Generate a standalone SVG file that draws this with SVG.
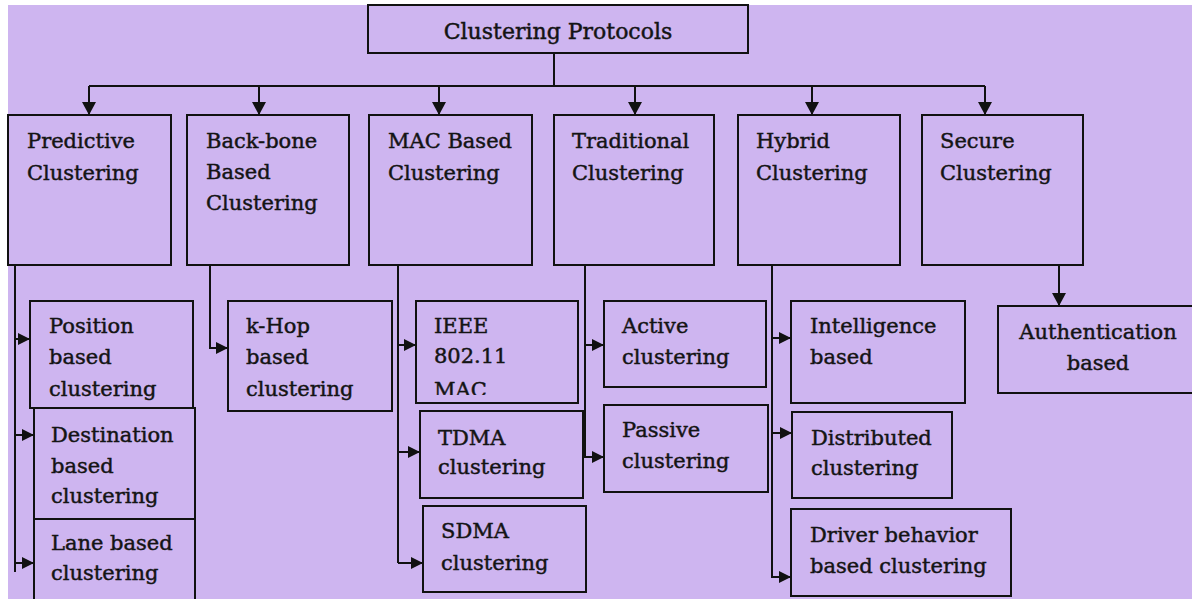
<svg xmlns="http://www.w3.org/2000/svg" width="1192" height="599" viewBox="0 0 1192 599">
  <defs>
    <style>
      .bg { fill: #ffffff; }
      .panel { fill: #ceb5f0; }
      .box { fill: #ceb5f0; stroke: #111111; stroke-width: 2; }
      .lbl { font-family: "DejaVu Serif", "Liberation Serif", serif; font-size: 21px; fill: #141414; stroke: #141414; stroke-width: 0.45; }
      .mid { text-anchor: middle; }
      .wire { fill: none; stroke: #111111; stroke-width: 2; }
      .drop { marker-end: url(#headL); }
      .tap { marker-end: url(#headS); }
    </style>
    <marker id="headL" markerUnits="userSpaceOnUse" markerWidth="14" markerHeight="14" refX="13" refY="7" orient="auto">
      <path d="M0,0 L13,7 L0,14 z" fill="#111111"/>
    </marker>
    <marker id="headS" markerUnits="userSpaceOnUse" markerWidth="12" markerHeight="12" refX="12" refY="6" orient="auto">
      <path d="M0,0 L12,6 L0,12 z" fill="#111111"/>
    </marker>
    <clipPath id="ieeeClip">
      <rect x="416" y="301" width="162" height="94"/>
    </clipPath>
  </defs>

  <rect class="bg" x="0" y="0" width="1192" height="599"/>
  <rect class="panel" x="8" y="5" width="1184" height="594"/>

  <!-- connectors -->
  <g id="connectors">
    <path class="wire" d="M554,53 V86"/>
    <path class="wire" d="M89,86 H985"/>
    <path class="wire drop" d="M89,86 V115"/>
    <path class="wire drop" d="M259,86 V115"/>
    <path class="wire drop" d="M439,86 V115"/>
    <path class="wire drop" d="M635,86 V115"/>
    <path class="wire drop" d="M812,86 V115"/>
    <path class="wire drop" d="M985,86 V115"/>

    <!-- predictive branch -->
    <path class="wire" d="M15,265 V572"/>
    <path class="wire tap" d="M15,339 H30"/>
    <path class="wire tap" d="M15,435 H34"/>
    <path class="wire tap" d="M15,563 H34"/>

    <!-- back-bone branch -->
    <path class="wire tap" d="M210,265 V348 H228"/>

    <!-- MAC branch -->
    <path class="wire" d="M398,265 V563"/>
    <path class="wire tap" d="M398,345 H416"/>
    <path class="wire tap" d="M398,452 H420"/>
    <path class="wire tap" d="M398,563 H423"/>

    <!-- traditional branch -->
    <path class="wire tap" d="M585,265 V457 H604"/>
    <path class="wire tap" d="M585,345 H604"/>

    <!-- hybrid branch -->
    <path class="wire tap" d="M772,265 V577 H791"/>
    <path class="wire tap" d="M772,338 H791"/>
    <path class="wire tap" d="M772,433 H792"/>

    <!-- secure branch -->
    <path class="wire drop" d="M1059,265 V306"/>
  </g>

  <!-- root -->
  <g id="root">
    <rect class="box" x="368" y="5" width="380" height="48"/>
    <text class="lbl mid" x="558" y="39" style="font-size:22px">Clustering Protocols</text>
  </g>

  <!-- first level -->
  <g id="predictive">
    <rect class="box" x="8" y="115" width="163" height="150"/>
    <text class="lbl" x="27" y="148">Predictive</text>
    <text class="lbl" x="27" y="180">Clustering</text>
  </g>
  <g id="backbone">
    <rect class="box" x="187" y="115" width="162" height="150"/>
    <text class="lbl" x="206" y="148">Back-bone</text>
    <text class="lbl" x="206" y="179">Based</text>
    <text class="lbl" x="206" y="210">Clustering</text>
  </g>
  <g id="mac">
    <rect class="box" x="369" y="115" width="163" height="150"/>
    <text class="lbl" x="388" y="148">MAC Based</text>
    <text class="lbl" x="388" y="180">Clustering</text>
  </g>
  <g id="traditional">
    <rect class="box" x="554" y="115" width="160" height="150"/>
    <text class="lbl" x="572" y="148">Traditional</text>
    <text class="lbl" x="572" y="180">Clustering</text>
  </g>
  <g id="hybrid">
    <rect class="box" x="738" y="115" width="162" height="150"/>
    <text class="lbl" x="756" y="148">Hybrid</text>
    <text class="lbl" x="756" y="180">Clustering</text>
  </g>
  <g id="secure">
    <rect class="box" x="922" y="115" width="161" height="150"/>
    <text class="lbl" x="940" y="148">Secure</text>
    <text class="lbl" x="940" y="180">Clustering</text>
  </g>

  <!-- predictive children -->
  <g id="position">
    <rect class="box" x="30" y="301" width="163" height="107"/>
    <text class="lbl" x="49" y="333">Position</text>
    <text class="lbl" x="49" y="364">based</text>
    <text class="lbl" x="49" y="396">clustering</text>
  </g>
  <g id="destination">
    <rect class="box" x="34" y="408" width="161" height="111"/>
    <text class="lbl" x="51" y="442">Destination</text>
    <text class="lbl" x="51" y="473">based</text>
    <text class="lbl" x="51" y="503">clustering</text>
  </g>
  <g id="lane">
    <rect class="box" x="34" y="519" width="161" height="100"/>
    <text class="lbl" x="51" y="550">Lane based</text>
    <text class="lbl" x="51" y="580">clustering</text>
  </g>

  <!-- back-bone child -->
  <g id="khop">
    <rect class="box" x="228" y="301" width="164" height="110"/>
    <text class="lbl" x="246" y="333">k-Hop</text>
    <text class="lbl" x="246" y="364">based</text>
    <text class="lbl" x="246" y="396">clustering</text>
  </g>

  <!-- MAC children -->
  <g id="ieee">
    <rect class="box" x="416" y="301" width="162" height="102"/>
    <g clip-path="url(#ieeeClip)">
      <text class="lbl" x="434" y="333">IEEE</text>
      <text class="lbl" x="434" y="363">802.11</text>
      <text class="lbl" x="434" y="397">MAC</text>
    </g>
  </g>
  <g id="tdma">
    <rect class="box" x="420" y="411" width="163" height="87"/>
    <text class="lbl" x="438" y="445">TDMA</text>
    <text class="lbl" x="438" y="474">clustering</text>
  </g>
  <g id="sdma">
    <rect class="box" x="423" y="506" width="163" height="86"/>
    <text class="lbl" x="441" y="538">SDMA</text>
    <text class="lbl" x="441" y="570">clustering</text>
  </g>

  <!-- traditional children -->
  <g id="active">
    <rect class="box" x="604" y="301" width="162" height="86"/>
    <text class="lbl" x="622" y="333">Active</text>
    <text class="lbl" x="622" y="364">clustering</text>
  </g>
  <g id="passive">
    <rect class="box" x="604" y="405" width="164" height="87"/>
    <text class="lbl" x="622" y="437">Passive</text>
    <text class="lbl" x="622" y="468">clustering</text>
  </g>

  <!-- hybrid children -->
  <g id="intelligence">
    <rect class="box" x="791" y="301" width="174" height="102"/>
    <text class="lbl" x="810" y="333">Intelligence</text>
    <text class="lbl" x="810" y="364">based</text>
  </g>
  <g id="distributed">
    <rect class="box" x="792" y="412" width="160" height="86"/>
    <text class="lbl" x="811" y="445">Distributed</text>
    <text class="lbl" x="811" y="475">clustering</text>
  </g>
  <g id="driver">
    <rect class="box" x="791" y="509" width="220" height="87"/>
    <text class="lbl" x="810" y="542">Driver behavior</text>
    <text class="lbl" x="810" y="573">based clustering</text>
  </g>

  <!-- secure child -->
  <g id="authentication">
    <rect class="box" x="998" y="306" width="210" height="87"/>
    <text class="lbl mid" x="1098" y="339">Authentication</text>
    <text class="lbl mid" x="1098" y="370">based</text>
  </g>
</svg>
